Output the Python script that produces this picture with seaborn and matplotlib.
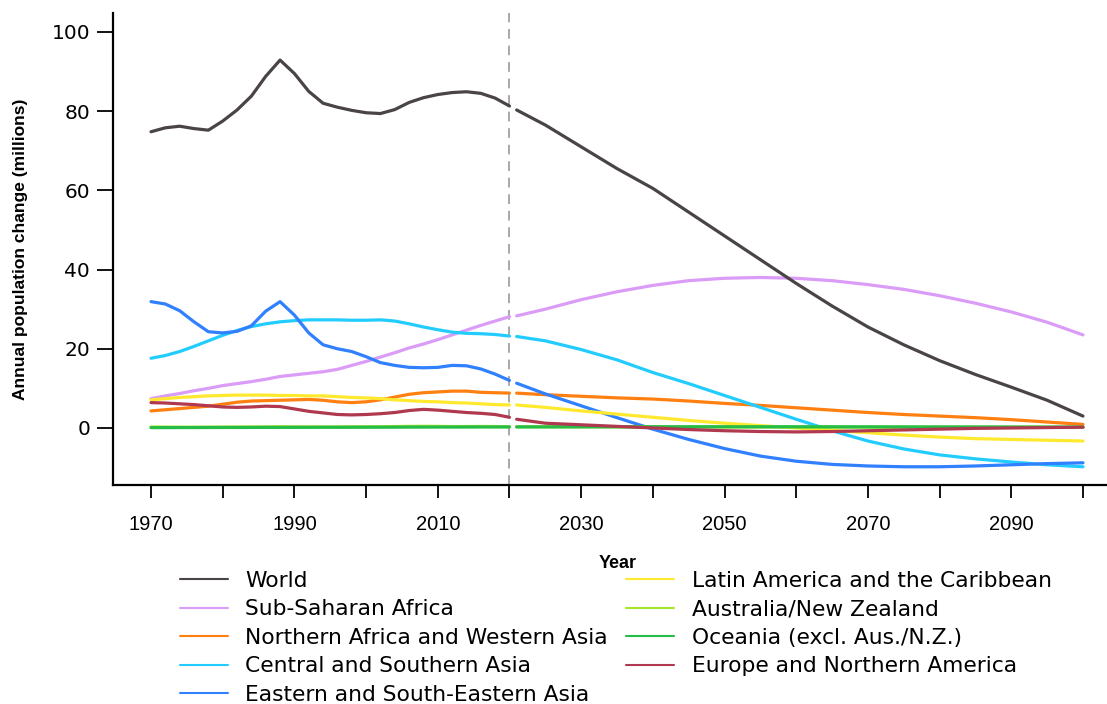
import matplotlib
matplotlib.use("Agg")
import matplotlib.pyplot as plt
import numpy as np
import pandas as pd
import seaborn as sns
from matplotlib.lines import Line2D

# ---- data (annual population change, millions) ----
regions = [
    "World",
    "Sub-Saharan Africa",
    "Northern Africa and Western Asia",
    "Central and Southern Asia",
    "Eastern and South-Eastern Asia",
    "Latin America and the Caribbean",
    "Australia/New Zealand",
    "Oceania (excl. Aus./N.Z.)",
    "Europe and Northern America",
]
colors = ["#4A4446", "#DA9CF7", "#FF7F10", "#22CCFF", "#3080FF",
          "#FFE92E", "#A5E62A", "#25BD48", "#B0384F"]

est_years = list(range(1970, 2021, 2))
proj_years = [2021, 2025, 2030, 2035, 2040, 2045, 2050, 2055, 2060,
              2065, 2070, 2075, 2080, 2085, 2090, 2095, 2100]

world_est = [74.8, 75.8, 76.2, 75.6, 75.2, 77.5, 80.3, 83.8, 88.8, 92.9, 89.5, 85.0, 82.0,
             81.0, 80.2, 79.6, 79.4, 80.4, 82.2, 83.4, 84.2, 84.7, 84.9, 84.5, 83.3, 81.3]
ssa_est = [7.4, 8.1, 8.7, 9.4, 10.0, 10.7, 11.2, 11.7, 12.3, 13.0, 13.4, 13.8, 14.2,
           14.8, 15.8, 16.8, 17.9, 19.0, 20.2, 21.2, 22.3, 23.5, 24.7, 25.9, 27.0, 28.1]
nawa_est = [4.3, 4.6, 4.9, 5.2, 5.5, 6.0, 6.5, 6.8, 6.9, 7.0, 7.1, 7.2, 7.0,
            6.6, 6.4, 6.6, 7.1, 7.8, 8.5, 8.9, 9.1, 9.3, 9.3, 9.0, 8.9, 8.8]
csa_est = [17.6, 18.3, 19.3, 20.6, 22.0, 23.4, 24.6, 25.6, 26.3, 26.8, 27.1, 27.3, 27.3,
           27.3, 27.2, 27.2, 27.3, 27.0, 26.3, 25.5, 24.8, 24.2, 23.9, 23.8, 23.6, 23.2]
esea_est = [31.9, 31.3, 29.6, 26.8, 24.3, 24.0, 24.4, 25.8, 29.5, 31.9, 28.5, 24.0, 21.0,
            20.0, 19.3, 18.0, 16.5, 15.8, 15.3, 15.2, 15.3, 15.8, 15.7, 14.9, 13.6, 12.0]
lac_est = [7.1, 7.4, 7.7, 7.9, 8.1, 8.2, 8.3, 8.3, 8.3, 8.2, 8.2, 8.1, 8.1,
           7.9, 7.7, 7.6, 7.4, 7.1, 6.9, 6.7, 6.6, 6.4, 6.3, 6.1, 5.9, 5.8]
anz_est = [0.25, 0.22, 0.20, 0.20, 0.22, 0.24, 0.25, 0.27, 0.28, 0.30, 0.28, 0.27, 0.26,
           0.27, 0.28, 0.30, 0.32, 0.36, 0.40, 0.42, 0.40, 0.36, 0.36, 0.38, 0.36, 0.30]
oce_est = [0.08, 0.09, 0.10, 0.10, 0.11, 0.12, 0.12, 0.13, 0.14, 0.15, 0.15, 0.16, 0.17,
           0.17, 0.18, 0.19, 0.19, 0.20, 0.21, 0.22, 0.23, 0.23, 0.24, 0.25, 0.25, 0.26]
ena_est = [6.4, 6.3, 6.1, 5.9, 5.6, 5.3, 5.2, 5.3, 5.5, 5.4, 4.8, 4.2, 3.8,
           3.4, 3.3, 3.4, 3.6, 3.9, 4.4, 4.7, 4.5, 4.2, 3.9, 3.7, 3.4, 2.7]

world_proj = [80.3, 76.5, 71.0, 65.5, 60.5, 54.5, 48.5, 42.5, 36.5, 30.8, 25.5, 21.0, 17.0,
              13.5, 10.3, 7.0, 3.0]
ssa_proj = [28.3, 30.0, 32.4, 34.4, 36.0, 37.2, 37.8, 38.0, 37.8, 37.2, 36.2, 35.0, 33.4,
            31.5, 29.3, 26.7, 23.5]
nawa_proj = [8.8, 8.4, 8.0, 7.6, 7.3, 6.8, 6.2, 5.7, 5.1, 4.5, 3.9, 3.4, 3.0,
             2.6, 2.1, 1.5, 0.9]
csa_proj = [23.1, 22.0, 19.8, 17.2, 14.0, 11.2, 8.2, 5.2, 2.2, -0.7, -3.3, -5.3, -6.8,
            -7.8, -8.6, -9.3, -9.8]
esea_proj = [11.3, 8.6, 5.6, 2.6, -0.3, -2.9, -5.2, -7.1, -8.4, -9.2, -9.6, -9.8, -9.8,
             -9.6, -9.3, -9.0, -8.8]
lac_proj = [5.8, 5.2, 4.3, 3.5, 2.7, 1.9, 1.2, 0.6, 0.0, -0.6, -1.2, -1.8, -2.3,
            -2.7, -2.9, -3.1, -3.3]
anz_proj = [0.30, 0.30, 0.29, 0.28, 0.27, 0.26, 0.25, 0.24, 0.23, 0.22, 0.21, 0.20, 0.20,
            0.19, 0.18, 0.17, 0.16]
oce_proj = [0.26, 0.27, 0.28, 0.29, 0.30, 0.30, 0.30, 0.30, 0.30, 0.29, 0.28, 0.27, 0.26,
            0.25, 0.24, 0.23, 0.22]
ena_proj = [2.2, 1.2, 0.8, 0.4, 0.0, -0.4, -0.7, -0.9, -1.0, -0.9, -0.7, -0.5, -0.3,
            -0.1, 0.0, 0.1, 0.2]

x_ticks = list(range(1970, 2101, 10))
x_labels = ["1970", "", "1990", "", "2010", "", "2030", "", "2050", "", "2070", "", "2090", ""]
y_ticks = [0, 20, 40, 60, 80, 100]
y_labels = ["0", "20", "40", "60", "80", "100"]

est_series = [world_est, ssa_est, nawa_est, csa_est, esea_est, lac_est, anz_est, oce_est, ena_est]
proj_series = [world_proj, ssa_proj, nawa_proj, csa_proj, esea_proj, lac_proj, anz_proj, oce_proj, ena_proj]


def long_frame(years, series):
    parts = [pd.DataFrame({"Year": years, "Change": vals, "Region": name})
             for name, vals in zip(regions, series)]
    return pd.concat(parts, ignore_index=True)


est_df = long_frame(est_years, est_series)
proj_df = long_frame(proj_years, proj_series)
palette = dict(zip(regions, colors))

sns.set_style("ticks")
plt.rcParams["font.family"] = ["Liberation Sans", "DejaVu Sans"]
plt.rcParams["text.color"] = "black"
plt.rcParams["axes.labelcolor"] = "black"

fig = plt.figure(figsize=(11.07, 7.04), dpi=100)
ax = fig.add_axes([0.1021, 0.3111, 0.8979, 0.6705])

line_w = 2.3
for frame in (est_df, proj_df):
    sns.lineplot(data=frame, x="Year", y="Change", hue="Region", hue_order=regions,
                 palette=palette, linewidth=line_w, estimator=None, sort=True,
                 legend=False, ax=ax)

# keep the world total above the regional curves
for ln in ax.lines:
    if matplotlib.colors.to_hex(ln.get_color()).upper() == colors[0]:
        ln.set_zorder(5)

ax.axvline(2020, color="#A8A8A8", linewidth=1.4, linestyle=(0, (5, 3.5)), zorder=1)

ax.set_xlim(1964.7, 2103.35)
ax.set_ylim(-14.4, 104.8)
ax.set_xticks(x_ticks)
ax.set_xticklabels(x_labels)
ax.set_yticks(y_ticks)
ax.set_yticklabels(y_labels)

for side in ("top", "right"):
    ax.spines[side].set_visible(False)
for side in ("left", "bottom"):
    ax.spines[side].set_linewidth(1.6)
    ax.spines[side].set_color("black")

ax.tick_params(axis="x", length=9.5, width=1.3, pad=12, labelsize=14.5, colors="black")
ax.tick_params(axis="y", length=11.5, width=1.3, pad=5, labelsize=14.5, colors="black")
for lbl in ax.get_yticklabels():
    lbl.set_fontfamily("DejaVu Sans")
for lbl in ax.get_xticklabels():
    lbl.set_fontfamily("Liberation Sans")

ax.set_xlabel("Year", fontsize=13, fontweight="bold")
ax.xaxis.set_label_coords(0.508, -0.148)
ax.set_ylabel("Annual population change (millions)", fontsize=12.5, fontweight="bold")
ax.yaxis.set_label_coords(-0.0926, 0.5)
ax.yaxis.label.set_va("center")

handles = [Line2D([0], [0], color=c, linewidth=1.5) for c in colors]
fig.legend(handles, regions, loc="upper left", bbox_to_anchor=(0.1626, 0.189),
           ncol=2, frameon=False, borderpad=0, borderaxespad=0,
           prop={"family": "DejaVu Sans", "size": 15.7}, labelcolor="black",
           handlelength=2.2, handletextpad=0.8, columnspacing=0.84,
           labelspacing=0.39)

fig.savefig("out.png", dpi=100)
